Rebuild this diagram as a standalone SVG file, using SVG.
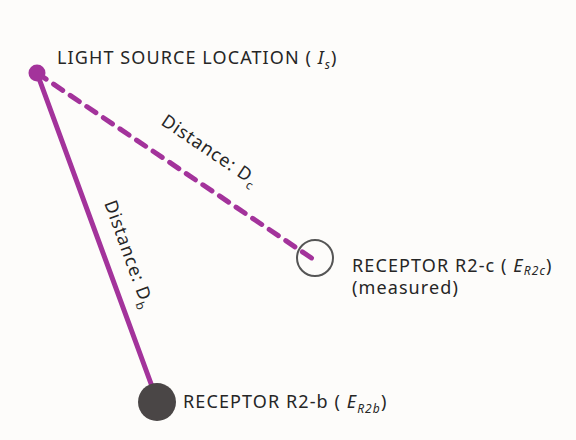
<svg xmlns="http://www.w3.org/2000/svg" width="576" height="440" viewBox="0 0 576 440">
<style>
.lbl{font-family:"Noto Sans","Liberation Sans",sans-serif;font-size:18px;fill:#262626;letter-spacing:1.1px}
.dl{font-family:"Noto Sans","Liberation Sans",sans-serif;font-size:18px;fill:#262626;letter-spacing:0.9px}
.it{font-style:italic}
.sub{font-size:12px;font-style:italic}
.ray{stroke:#a3339b;stroke-width:5;fill:none;stroke-linecap:round}
</style>
<rect width="576" height="440" fill="#fdfcfa"/>
<g id="connectors">
<line class="ray" x1="37" y1="73" x2="157" y2="400"/>
<line class="ray" x1="37" y1="73" x2="313" y2="259" stroke-dasharray="11,9" stroke-linecap="butt"/>
</g>
<g id="source">
<circle cx="37" cy="73" r="8.5" fill="#a3339b"/>
<text class="lbl" x="57" y="64">LIGHT SOURCE LOCATION ( <tspan class="it">I</tspan><tspan class="sub" dy="5">s</tspan><tspan dy="-5">)</tspan></text>
</g>
<g id="receptor-c">
<circle cx="315" cy="258" r="18" fill="none" stroke="#555" stroke-width="2"/>
<text class="lbl" x="352" y="272">RECEPTOR R2-c ( <tspan class="it">E</tspan><tspan class="sub" dy="3">R2c</tspan><tspan dy="-3">)</tspan></text>
<text class="lbl" x="352" y="294">(measured)</text>
</g>
<g id="receptor-b">
<circle cx="157" cy="402" r="19" fill="#4a4646"/>
<text class="lbl" x="183" y="408">RECEPTOR R2-b ( <tspan class="it">E</tspan><tspan class="sub" dy="5">R2b</tspan><tspan dy="-5">)</tspan></text>
</g>
<g id="label-dc">
<text class="dl" transform="translate(160,124) rotate(34)">Distance: D<tspan class="sub" dy="5" style="font-style:normal">c</tspan></text>
</g>
<g id="label-db">
<text class="dl" transform="translate(104,203) rotate(70)">Distance: D<tspan class="sub" dy="5" style="font-style:normal">b</tspan></text>
</g>
</svg>
